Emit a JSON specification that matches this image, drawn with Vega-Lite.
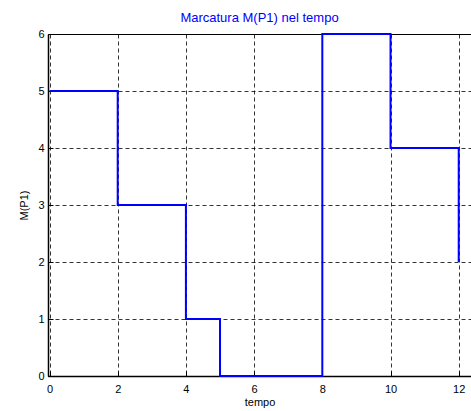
{
  "$schema": "https://vega.github.io/schema/vega-lite/v6.json",
  "autosize": "none",
  "width": 423,
  "height": 342,
  "padding": {"left": 48, "top": 34, "right": 0, "bottom": 35},
  "background": "white",
  "title": {"text": "Marcatura M(P1) nel tempo", "color": "#0000FF", "font": "Liberation Sans", "fontSize": 13, "fontWeight": "normal", "offset": 3},
  "config": {
    "view": {"stroke": "black", "strokeWidth": 1},
    "axis": {"labelFont": "Liberation Sans", "titleFont": "Liberation Sans", "labelFontSize": 11, "titleFontSize": 11, "titleFontWeight": "normal", "labelColor": "black", "titleColor": "black",
      "grid": true, "gridColor": "black", "gridDash": [4, 3], "gridOpacity": 1, "gridWidth": 0.8,
      "domainColor": "black", "domainWidth": 1.5, "tickColor": "black", "tickSize": -5, "labelPadding": 10}
  },
  "data": {"values": [
    {"tempo": 0, "m": 5},
    {"tempo": 2, "m": 3},
    {"tempo": 4, "m": 1},
    {"tempo": 5, "m": 0},
    {"tempo": 8, "m": 6},
    {"tempo": 10, "m": 4},
    {"tempo": 12, "m": 2}
  ]},
  "mark": {"type": "line", "interpolate": "step-after", "color": "#0000FF", "strokeWidth": 2},
  "encoding": {
    "x": {"field": "tempo", "type": "quantitative", "scale": {"domain": [-0.044, 12.36], "nice": false, "zero": false},
      "axis": {"values": [0, 2, 4, 6, 8, 10, 12], "title": "tempo", "titlePadding": 2, "labelPadding": 12}},
    "y": {"field": "m", "type": "quantitative", "scale": {"domain": [0, 6], "nice": false},
      "axis": {"values": [0, 1, 2, 3, 4, 5, 6], "title": "M(P1)", "titlePadding": 8, "labelPadding": 9}}
  }
}
